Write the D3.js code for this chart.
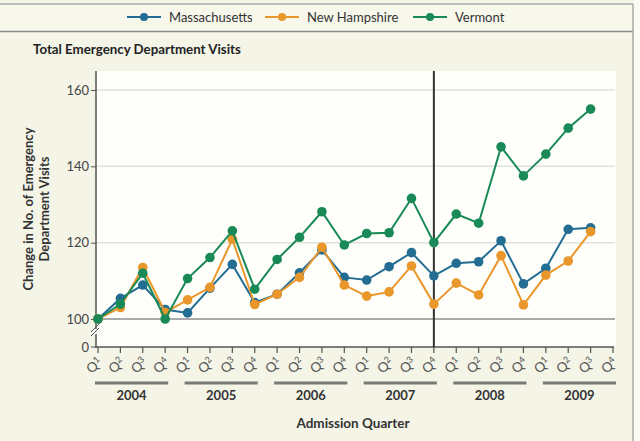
<!DOCTYPE html>
<html>
<head>
<meta charset="utf-8">
<script src="https://cdn.jsdelivr.net/npm/d3@7"></script>
<style>
  body { margin: 0; background: #f4f4e7; }
  svg { display: block; font-family: Lato, "Open Sans", sans-serif; }
</style>
</head>
<body>
<div id="chart_div"></div>
<script>
// data
const years = ["2004", "2005", "2006", "2007", "2008", "2009"];
const quarters = ["1", "2", "3", "4"];
const series_names = ["Massachusetts", "New Hampshire", "Vermont"];
const series_colors = ["#236d93", "#e9972b", "#198a57"];
const massachusetts = [100, 105.4, 108.9, 102.5, 101.6, 108.1, 114.3, 104.3, 106.5, 112.1, 118.1, 110.9,
  110.2, 113.7, 117.4, 111.3, 114.6, 115.0, 120.5, 109.2, 113.3, 123.5, 123.9];
const new_hampshire = [100, 103.0, 113.5, 101.7, 105.0, 108.3, 120.9, 103.8, 106.5, 110.9, 118.8, 108.9,
  106.0, 107.1, 113.9, 103.9, 109.4, 106.3, 116.6, 103.7, 111.5, 115.2, 122.9];
const vermont = [100, 103.9, 112.0, 100.0, 110.6, 116.1, 123.1, 107.8, 115.6, 121.4, 128.1, 119.4,
  122.4, 122.6, 131.6, 120.0, 127.5, 125.1, 145.1, 137.5, 143.2, 150.0, 155.0];
const y_ticks = [100, 120, 140, 160];
const marker_index = 15; // 2007 Q4

const width = 640, height = 441;
const svg = d3.select("#chart_div").append("svg")
  .attr("width", width).attr("height", height);

// background pieces
svg.append("rect").attr("x", 0).attr("y", 0).attr("width", width).attr("height", height).attr("fill", "#f4f4e7");
svg.append("rect").attr("x", 0).attr("y", 4).attr("width", 633).attr("height", 27).attr("fill", "#f7f7ec");
svg.append("line").attr("x1", 0).attr("x2", 633).attr("y1", 4).attr("y2", 4).attr("stroke", "#aaa").attr("stroke-width", 1.5);
svg.append("line").attr("x1", 0).attr("x2", 633).attr("y1", 31.5).attr("y2", 31.5).attr("stroke", "#888").attr("stroke-width", 1.5);
svg.append("line").attr("x1", 633).attr("x2", 633).attr("y1", 4).attr("y2", height).attr("stroke", "#aaa").attr("stroke-width", 1.5);
svg.append("rect").attr("x", 634).attr("y", 0).attr("width", 6).attr("height", height).attr("fill", "#fbfbf4");

const plot = {left: 96, right: 616, top: 71, bottom: 347};
svg.append("rect").attr("x", plot.left).attr("y", plot.top)
  .attr("width", plot.right - plot.left).attr("height", plot.bottom - plot.top)
  .attr("fill", "#fefefa");

// scales
const keys = [];
years.forEach(y => quarters.forEach(q => keys.push(y + "Q" + q)));
const x = d3.scalePoint().domain(keys).range([98, 613]);
const y = d3.scaleLinear().domain([100, 160]).range([319, 90]);

// gridlines
svg.append("g").selectAll("line").data(y_ticks).join("line")
  .attr("x1", plot.left).attr("x2", plot.right - 1)
  .attr("y1", d => y(d)).attr("y2", d => y(d))
  .attr("stroke", d => d === 100 ? "#aaa" : "#e2e2dc")
  .attr("stroke-width", d => d === 100 ? 2 : 1.5);

// y axis
const yAxis = svg.append("g").attr("transform", `translate(${plot.left},0)`)
  .call(d3.axisLeft(y).tickValues(y_ticks).tickSize(5).tickPadding(2));
yAxis.select(".domain").remove();
yAxis.selectAll("line").attr("stroke", "#555");
yAxis.selectAll("text").attr("font-size", 13).attr("fill", "#444").attr("font-family", "Lato, sans-serif");
svg.append("line").attr("x1", plot.left).attr("x2", plot.left)
  .attr("y1", plot.top).attr("y2", plot.bottom + 1).attr("stroke", "#555").attr("stroke-width", 1.5);
// zero tick + break
svg.append("line").attr("x1", plot.left - 5).attr("x2", plot.left).attr("y1", plot.bottom).attr("y2", plot.bottom).attr("stroke", "#555");
svg.append("text").attr("x", plot.left - 7).attr("y", plot.bottom + 4.5).attr("text-anchor", "end")
  .attr("font-size", 13).attr("fill", "#444").text("0");
svg.append("rect").attr("x", plot.left - 3).attr("y", 329).attr("width", 6).attr("height", 5).attr("fill", "#fefefa");
[0, 4].forEach(o => svg.append("line")
  .attr("x1", plot.left - 5).attr("y1", 336 - o).attr("y2", 328 - o).attr("x2", plot.left + 3)
  .attr("stroke", "#555").attr("stroke-width", 1));

// x axis
svg.append("line").attr("x1", plot.left).attr("x2", plot.right - 2)
  .attr("y1", plot.bottom).attr("y2", plot.bottom).attr("stroke", "#555").attr("stroke-width", 1.5);
svg.append("g").selectAll("line").data(keys).join("line")
  .attr("x1", d => x(d)).attr("x2", d => x(d))
  .attr("y1", plot.bottom).attr("y2", plot.bottom + 6)
  .attr("stroke", "#555").attr("stroke-width", 1.2);
const qlab = svg.append("g").selectAll("text").data(keys).join("text")
  .attr("transform", d => `translate(${x(d) + 5},${plot.bottom + 16}) rotate(-45)`)
  .attr("text-anchor", "end").attr("font-size", 13.5).attr("fill", "#555");
qlab.append("tspan").text("Q");
qlab.append("tspan").attr("font-size", 9).attr("dy", -4).text(d => d.slice(-1));

// year bars and labels
years.forEach(yr => {
  const x0 = x(yr + "Q1") - 3, x1 = x(yr + "Q4") + 3;
  svg.append("line").attr("x1", x0).attr("x2", x1).attr("y1", 383).attr("y2", 383)
    .attr("stroke", "#7b7b76").attr("stroke-width", 3);
  svg.append("text").attr("x", (x0 + x1) / 2).attr("y", 400).attr("text-anchor", "middle")
    .attr("font-size", 13).attr("font-weight", "bold").attr("fill", "#333").text(yr);
});

svg.append("text").attr("x", 353).attr("y", 428).attr("text-anchor", "middle")
  .attr("font-size", 13.5).attr("font-weight", "bold").attr("fill", "#333").text("Admission Quarter");

// y title
const ytitle = svg.append("text").attr("transform", "translate(33,209) rotate(-90)")
  .attr("text-anchor", "middle").attr("font-size", 13).attr("font-weight", "bold").attr("fill", "#333");
ytitle.append("tspan").attr("x", 0).attr("dy", 0).text("Change in No. of Emergency");
ytitle.append("tspan").attr("x", 0).attr("dy", 15.5).text("Department Visits");

// chart title
svg.append("text").attr("x", 33).attr("y", 54).attr("font-size", 13.3).attr("font-weight", "bold")
  .attr("fill", "#222").text("Total Emergency Department Visits");

// vertical marker line
svg.append("line").attr("x1", x(keys[marker_index])).attr("x2", x(keys[marker_index]))
  .attr("y1", plot.top).attr("y2", plot.bottom).attr("stroke", "#333").attr("stroke-width", 2);

// series
const all_series = [massachusetts, new_hampshire, vermont];
const line = d3.line().x((d, i) => x(keys[i])).y(d => y(d));
[0, 1, 2].forEach(s => {
  const g = svg.append("g");
  g.append("path").datum(all_series[s]).attr("d", line)
    .attr("fill", "none").attr("stroke", series_colors[s]).attr("stroke-width", 2);
  g.selectAll("circle").data(all_series[s]).join("circle")
    .attr("cx", (d, i) => x(keys[i])).attr("cy", d => y(d)).attr("r", 4.8)
    .attr("fill", series_colors[s]);
});

// legend
const legend_x = [127, 265, 413];
series_names.forEach((name, i) => {
  const lg = svg.append("g").attr("transform", `translate(${legend_x[i]},17)`);
  lg.append("line").attr("x1", 0).attr("x2", 34).attr("y1", 0).attr("y2", 0)
    .attr("stroke", series_colors[i]).attr("stroke-width", 2);
  lg.append("circle").attr("cx", 17).attr("cy", 0).attr("r", 4).attr("fill", series_colors[i]);
  lg.append("text").attr("x", 42).attr("y", 4.5).attr("font-size", 13).attr("fill", "#333").text(name);
});
</script>
</body>
</html>
